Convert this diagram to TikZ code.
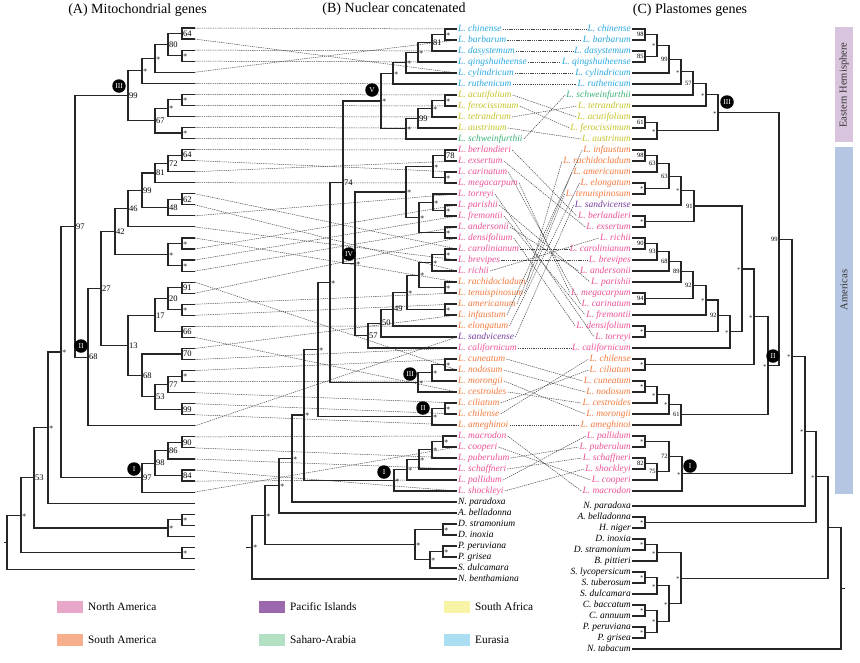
\documentclass[tikz,border=0pt]{standalone}
\usepackage{fontspec}
\setmainfont{Liberation Serif}
\usetikzlibrary{calc}
\definecolor{ceu}{RGB}{41,168,224}
\definecolor{csa}{RGB}{196,196,40}
\definecolor{csh}{RGB}{60,178,118}
\definecolor{cna}{RGB}{236,82,152}
\definecolor{csm}{RGB}{243,122,62}
\definecolor{cpa}{RGB}{118,58,160}
\definecolor{lna}{RGB}{232,167,200}
\definecolor{lpa}{RGB}{155,104,173}
\definecolor{lsa}{RGB}{248,244,166}
\definecolor{lsm}{RGB}{246,174,140}
\definecolor{lsh}{RGB}{179,223,194}
\definecolor{leu}{RGB}{170,223,243}
\definecolor{ehcol}{RGB}{216,196,220}
\definecolor{amcol}{RGB}{181,198,226}
\newcommand\sstar{$\ast$}
\newcommand\jn[6]{%
  \coordinate (tmpx) at (#2,0);
  \coordinate (tmpm) at ($(#3)!0.5!(#4)$);
  \coordinate (#1) at (tmpm -| tmpx);
  \draw[tr] (#3) -- (#3 -| #1) -- (#4 -| #1) -- (#4);
  \node[#6] (#1l) at (#1) {#5};
}
\tikzset{
  tr/.style={line width=1.15pt, draw=black!85, line join=miter},
  dsh/.style={draw=black!72, line width=0.5pt, dash pattern=on 1.3pt off 0.9pt},
  tax/.style={font=\fontsize{9.5}{10}\selectfont\itshape, inner sep=1pt, text height=6.8pt, text depth=2pt},
  sa/.style={anchor=west, font=\fontsize{8.5}{9}\selectfont, inner sep=0.8pt},
  sc/.style={anchor=east, font=\fontsize{6.5}{7}\selectfont, inner sep=1.2pt},
  circ/.style={circle, fill=black, minimum size=13.5pt, inner sep=0pt, text=white, font=\fontsize{7.5}{8}\selectfont},
  ttl/.style={font=\fontsize{14}{16}\selectfont, inner sep=0pt},
  leg/.style={font=\fontsize{11.3}{12}\selectfont, anchor=west, inner sep=1pt},
  side/.style={font=\fontsize{10.5}{11}\selectfont, text=black!80, rotate=90, inner sep=0pt}
}
\begin{document}
\begin{tikzpicture}[x=1pt,y=-1pt]
\fill[white] (0,0) rectangle (860,662);
\useasboundingbox (0,0) rectangle (860,662);
% titles
\node[ttl] (tA) at (137.5,10) {(A) Mitochondrial genes};
\node[ttl] (tB) at (394,9) {(B) Nuclear concatenated};
\node[ttl] (tC) at (690,10) {(C) Plastomes genes};
% side bars
\fill[ehcol] (835,27) rectangle (853,142);
\fill[amcol] (835,147) rectangle (853,494);
\node[side] (sEH) at (844,85) {Eastern Hemisphere};
\node[side] (sAM) at (844,290) {Americas};
% A tips
\foreach \i in {0,...,49} \coordinate (a\i) at (195,{28+11.05*\i});
% B labels
\foreach \k/\n/\c [count=\j from 0] in {chi/chinense/ceu, bar/barbarum/ceu, das/dasystemum/ceu, qin/qingshuiheense/ceu, cyl/cylindricum/ceu, rut/ruthenicum/ceu, acu/acutifolium/csa, fer/ferocissimum/csa, tet/tetrandrum/csa, aus/austrinum/csa, sch/schweinfurthii/csh, ber/berlandieri/cna, exs/exsertum/cna, car/carinatum/cna, meg/megacarpum/cna, tor/torreyi/cna, par/parishii/cna, fre/fremontii/cna, and/andersonii/cna, den/densifolium/cna, crl/carolinianum/cna, bre/brevipes/cna, ric/richii/cna, rac/rachidocladum/csm, ten/tenuispinosum/csm, ame/americanum/csm, inf/infaustum/csm, elo/elongatum/csm, san/sandvicense/cpa, cal/californicum/cna, cun/cuneatum/csm, nod/nodosum/csm, mor/morongii/csm, ces/cestroides/csm, cil/ciliatum/csm, chl/chilense/csm, amg/ameghinoi/csm, mac/macrodon/cna, coo/cooperi/cna, pub/puberulum/cna, sff/schaffneri/cna, pal/pallidum/cna, sho/shockleyi/cna}
  \node[tax, text=\c, anchor=west] (B\k) at (457,{29+11*\j}) {L. \n};
\foreach \k/\n [count=\j from 43] in {npa/N. paradoxa, abe/A. belladonna, dst/D. stramonium, din/D. inoxia, ppe/P. peruviana, pgr/P. grisea, sdu/S. dulcamara, nbe/N. benthamiana}
  \node[tax, anchor=west] (B\k) at (457,{29+11*\j}) {\n};
% C labels
\foreach \k/\n/\c [count=\j from 0] in {chi/chinense/ceu, bar/barbarum/ceu, das/dasystemum/ceu, qin/qingshuiheense/ceu, cyl/cylindricum/ceu, rut/ruthenicum/ceu, sch/schweinfurthii/csh, tet/tetrandrum/csa, acu/acutifolium/csa, fer/ferocissimum/csa, aus/austrinum/csa, inf/infaustum/csm, rac/rachidocladum/csm, ame/americanum/csm, elo/elongatum/csm, ten/tenuispinosum/csm, san/sandvicense/cpa, ber/berlandieri/cna, exs/exsertum/cna, ric/richii/cna, crl/carolinianum/cna, bre/brevipes/cna, and/andersonii/cna, par/parishii/cna, meg/megacarpum/cna, car/carinatum/cna, fre/fremontii/cna, den/densifolium/cna, tor/torreyi/cna, cal/californicum/cna, chl/chilense/csm, cil/ciliatum/csm, cun/cuneatum/csm, nod/nodosum/csm, ces/cestroides/csm, mor/morongii/csm, amg/ameghinoi/csm, pal/pallidum/cna, pub/puberulum/cna, sff/schaffneri/cna, sho/shockleyi/cna, coo/cooperi/cna, mac/macrodon/cna}
  \node[tax, text=\c, anchor=east] (C\k) at (632,{29+11*\j}) {L. \n};
\foreach \k/\n [count=\j from 0] in {npa/N. paradoxa, abe/A. belladonna, hni/H. niger, din/D. inoxia, dst/D. stramonium, bpi/B. pittieri, sly/S. lycopersicum, stu/S. tuberosum, sdu/S. dulcamara, cba/C. baccatum, can/C. annuum, ppe/P. peruviana, pgr/P. grisea, nta/N. tabacum}
  \node[tax, anchor=east] (C\k) at (632,{506+11*\j}) {\n};
% dashed A -> B
\foreach \i/\k in {0/chi,1/cyl,2/das,3/qin,4/bar,5/rut,6/acu,7/fer,8/tet,9/aus,10/sch,11/ber,12/car,13/exs,14/meg,15/crl,16/ric,17/tor,18/bre,19/rac,20/par,21/fre,22/and,23/nod,24/den,25/ten,26/ame,27/elo,28/ces,29/inf,30/cal,31/cun,32/mor,33/cil,34/chl,35/amg,36/san,37/mac,38/pub,39/sff,40/sho,41/pal,42/coo}
  \draw[dsh] (a\i) -- (B\k.west);
% dashed B -> C
\foreach \k in {chi,bar,das,qin,cyl,rut,acu,fer,tet,aus,sch,ber,exs,car,meg,tor,par,fre,and,den,crl,bre,ric,rac,ten,ame,inf,elo,san,cal,cun,nod,mor,ces,cil,chl,amg,mac,coo,pub,sff,pal,sho}
  \draw[dsh] (B\k.east) -- (C\k.west);
% ===== tree A =====
\jn{n1}{182}{a0}{a1}{64}{sa}
\jn{n2}{182}{a2}{a3}{\sstar}{sa}
\jn{n3}{168}{n1}{n2}{80}{sa}
\jn{n4}{155}{n3}{a4}{\sstar}{sa}
\jn{n5}{142}{n4}{a5}{\sstar}{sa}
\jn{n6}{182}{a6}{a7}{\sstar}{sa}
\jn{n7}{168}{n6}{a8}{\sstar}{sa}
\jn{n8}{182}{a9}{a10}{\sstar}{sa}
\jn{n9}{155}{n7}{n8}{67}{sa}
\jn{n10}{128}{n5}{n9}{99}{sa}
\jn{n11}{182}{a11}{a12}{64}{sa}
\jn{n12}{168}{n11}{a13}{72}{sa}
\jn{n13}{155}{n12}{a14}{81}{sa}
\jn{n14}{182}{a15}{a16}{62}{sa}
\jn{n15}{168}{n14}{a17}{48}{sa}
\jn{n16}{142}{n13}{n15}{99}{sa}
\jn{n17}{128}{n16}{a18}{46}{sa}
\jn{n18}{182}{a19}{a20}{\sstar}{sa}
\jn{n19}{182}{a21}{a22}{\sstar}{sa}
\jn{n20}{168}{n18}{n19}{\sstar}{sa}
\jn{n21}{115}{n17}{n20}{42}{sa}
\jn{n22}{182}{a23}{a24}{91}{sa}
\jn{n23}{182}{a25}{a26}{\sstar}{sa}
\jn{n24}{168}{n22}{n23}{20}{sa}
\jn{n25}{182}{a27}{a28}{66}{sa}
\jn{n26}{155}{n24}{n25}{17}{sa}
\jn{n27}{182}{a29}{a30}{70}{sa}
\jn{n28}{182}{a31}{a32}{\sstar}{sa}
\jn{n29}{168}{n28}{a33}{77}{sa}
\jn{n30}{182}{a34}{a35}{99}{sa}
\jn{n31}{155}{n29}{n30}{53}{sa}
\jn{n32}{142}{n27}{n31}{68}{sa}
\jn{n33}{128}{n26}{n32}{13}{sa}
\jn{n34}{101}{n21}{n33}{27}{sa}
\jn{n35}{88}{n34}{a36}{68}{sa}
\jn{n36}{75}{n10}{n35}{97}{sa}
\jn{n37}{182}{a37}{a38}{90}{sa}
\jn{n38}{168}{n37}{a39}{86}{sa}
\jn{n39}{182}{a40}{a41}{84}{sa}
\jn{n40}{155}{n38}{n39}{98}{sa}
\jn{n41}{142}{n40}{a42}{97}{sa}
\jn{n42}{61}{n36}{n41}{\sstar}{sa}
\jn{n43}{48}{n42}{a43}{\sstar}{sa}
\jn{n44}{182}{a44}{a45}{\sstar}{sa}
\jn{n45}{168}{n44}{a46}{\sstar}{sa}
\jn{n46}{34}{n43}{n45}{53}{sa}
\jn{n47}{182}{a47}{a48}{\sstar}{sa}
\jn{n48}{21}{n46}{n47}{\sstar}{sa}
\jn{n49}{7}{n48}{a49}{}{sa}
\draw[tr] (n49) -- ++(-3,0);
\node[circ] (cA3) at (119,86) {III};
\node[circ] (cA2) at (81,346) {II};
\node[circ] (cA1) at (134,469) {I};
% ===== tree B =====
\jn{m1}{445}{Bchi.west}{Bbar.west}{\sstar}{sa}
\jn{m2}{432}{m1}{Bdas.west}{81}{sa}
\jn{m3}{418}{m2}{Bqin.west}{\sstar}{sa}
\jn{m4}{406}{m3}{Bcyl.west}{\sstar}{sa}
\jn{m5}{393}{m4}{Brut.west}{\sstar}{sa}
\jn{m6}{445}{Bacu.west}{Bfer.west}{\sstar}{sa}
\jn{m7}{432}{m6}{Btet.west}{\sstar}{sa}
\jn{m8}{418}{m7}{Baus.west}{99}{sa}
\jn{m9}{406}{m8}{Bsch.west}{\sstar}{sa}
\jn{m10}{381}{m5}{m9}{\sstar}{sa}
\jn{m11}{445}{Bber.west}{Bexs.west}{78}{sa}
\jn{m12}{445}{Bcar.west}{Bmeg.west}{\sstar}{sa}
\jn{m13}{433}{m11}{m12}{\sstar}{sa}
\jn{m14}{445}{Bpar.west}{Bfre.west}{\sstar}{sa}
\jn{m15}{433}{Btor.west}{m14}{\sstar}{sa}
\jn{m16}{445}{Band.west}{Bden.west}{\sstar}{sa}
\jn{m17}{419}{m15}{m16}{\sstar}{sa}
\jn{m18}{406}{m13}{m17}{\sstar}{sa}
\jn{m19}{445}{Bcrl.west}{Bbre.west}{\sstar}{sa}
\jn{m20}{432}{m19}{Bric.west}{\sstar}{sa}
\jn{m21}{445}{Brac.west}{Bten.west}{\sstar}{sa}
\jn{m22}{419}{m20}{m21}{\sstar}{sa}
\jn{m23}{445}{Bame.west}{Binf.west}{\sstar}{sa}
\jn{m24}{407}{m22}{m23}{\sstar}{sa}
\jn{m25}{393}{m24}{Belo.west}{49}{sa}
\jn{m26}{381}{m25}{Bsan.west}{50}{sa}
\jn{m27}{368}{m26}{Bcal.west}{57}{sa}
\jn{m28}{355}{m18}{m27}{\sstar}{sa}
\jn{m29}{343}{m10}{m28}{74}{sa}
\jn{m30}{445}{Bcun.west}{Bnod.west}{\sstar}{sa}
\jn{m31}{432}{m30}{Bmor.west}{\sstar}{sa}
\jn{m32}{418}{m31}{Bces.west}{\sstar}{sa}
\jn{m33}{330}{m29}{m32}{\sstar}{sa}
\jn{m34}{445}{Bcil.west}{Bchl.west}{\sstar}{sa}
\jn{m35}{432}{m34}{Bamg.west}{\sstar}{sa}
\jn{m36}{318}{m33}{m35}{\sstar}{sa}
\jn{m37}{443}{Bmac.west}{Bcoo.west}{\sstar}{sa}
\jn{m38}{432}{m37}{Bpub.west}{\sstar}{sa}
\jn{m39}{419}{m38}{Bsff.west}{\sstar}{sa}
\jn{m40}{407}{m39}{Bpal.west}{\sstar}{sa}
\jn{m41}{394}{m40}{Bsho.west}{\sstar}{sa}
\jn{m42}{304}{m36}{m41}{\sstar}{sa}
\jn{m43}{292}{m42}{Bnpa.west}{\sstar}{sa}
\jn{m44}{279}{m43}{Babe.west}{\sstar}{sa}
\jn{m45}{443}{Bdst.west}{Bdin.west}{\sstar}{sa}
\jn{m46}{443}{Bppe.west}{Bpgr.west}{\sstar}{sa}
\jn{m47}{430}{m46}{Bsdu.west}{\sstar}{sa}
\jn{m48}{415}{m45}{m47}{\sstar}{sa}
\jn{m49}{265}{m44}{m48}{\sstar}{sa}
\jn{m50}{252}{m49}{Bnbe.west}{\sstar}{sa}
\draw[tr] (m50) -- ++(-6,0);
\node[circ] (cB5) at (372,90) {V};
\node[circ] (cB4) at (349,254) {IV};
\node[circ] (cB3) at (410,374) {III};
\node[circ] (cB2) at (423,408) {II};
\node[circ] (cB1) at (384,472) {I};
% ===== tree C =====
\jn{k1}{645}{Cchi.east}{Cbar.east}{98}{sc}
\jn{k2}{645}{Cdas.east}{Cqin.east}{85}{sc}
\jn{k3}{657}{k1}{k2}{\sstar}{sc}
\jn{k4}{669}{k3}{Ccyl.east}{99}{sc}
\jn{k5}{681}{k4}{Crut.east}{\sstar}{sc}
\jn{k6}{693}{k5}{Csch.east}{57}{sc}
\jn{k7}{706}{k6}{Ctet.east}{\sstar}{sc}
\jn{k8}{645}{Cacu.east}{Cfer.east}{61}{sc}
\jn{k9}{657}{k8}{Caus.east}{\sstar}{sc}
\jn{k10}{718}{k7}{k9}{\sstar}{sc}
\jn{k11}{645}{Cinf.east}{Crac.east}{98}{sc}
\jn{k12}{657}{k11}{Came.east}{63}{sc}
\jn{k13}{645}{Celo.east}{Cten.east}{\sstar}{sc}
\jn{k14}{669}{k12}{k13}{63}{sc}
\jn{k15}{681}{k14}{Csan.east}{\sstar}{sc}
\jn{k16}{645}{Cber.east}{Cexs.east}{\sstar}{sc}
\jn{k17}{694}{k15}{k16}{91}{sc}
\jn{k18}{645}{Cric.east}{Ccrl.east}{90}{sc}
\jn{k19}{657}{k18}{Cbre.east}{93}{sc}
\jn{k20}{669}{k19}{Cand.east}{68}{sc}
\jn{k21}{681}{k20}{Cpar.east}{89}{sc}
\jn{k22}{645}{Cmeg.east}{Ccar.east}{94}{sc}
\jn{k23}{693}{k21}{k22}{92}{sc}
\jn{k24}{706}{k23}{Cfre.east}{\sstar}{sc}
\jn{k25}{645}{Cden.east}{Ctor.east}{\sstar}{sc}
\jn{k26}{718}{k24}{k25}{92}{sc}
\jn{k27}{730}{k26}{Ccal.east}{\sstar}{sc}
\jn{k28}{742}{k17}{k27}{\sstar}{sc}
\jn{k29}{645}{Cchl.east}{Ccil.east}{\sstar}{sc}
\jn{k30}{754}{k28}{k29}{\sstar}{sc}
\jn{k31}{645}{Ccun.east}{Cnod.east}{\sstar}{sc}
\jn{k32}{657}{k31}{Cces.east}{\sstar}{sc}
\jn{k33}{669}{k32}{Cmor.east}{\sstar}{sc}
\jn{k34}{681}{k33}{Camg.east}{61}{sc}
\jn{k35}{768}{k30}{k34}{\sstar}{sc}
\jn{k36}{779}{k10}{k35}{99}{sc}
\jn{k37}{645}{Cpal.east}{Cpub.east}{\sstar}{sc}
\jn{k38}{645}{Csff.east}{Csho.east}{82}{sc}
\jn{k39}{657}{k38}{Ccoo.east}{75}{sc}
\jn{k40}{669}{k37}{k39}{72}{sc}
\jn{k41}{682}{k40}{Cmac.east}{\sstar}{sc}
\jn{k42}{792}{k36}{k41}{\sstar}{sc}
\jn{k43}{805}{k42}{Cnpa.east}{\sstar}{sc}
\jn{k44}{645}{Cabe.east}{Chni.east}{\sstar}{sc}
\jn{k45}{816}{k43}{k44}{\sstar}{sc}
\jn{k46}{645}{Cdin.east}{Cdst.east}{\sstar}{sc}
\jn{k47}{657}{k46}{Cbpi.east}{\sstar}{sc}
\jn{k48}{645}{Csly.east}{Cstu.east}{\sstar}{sc}
\jn{k49}{657}{k48}{Csdu.east}{\sstar}{sc}
\jn{k50}{645}{Ccba.east}{Ccan.east}{\sstar}{sc}
\jn{k51}{645}{Cppe.east}{Cpgr.east}{\sstar}{sc}
\jn{k52}{657}{k50}{k51}{\sstar}{sc}
\jn{k53}{669}{k49}{k52}{\sstar}{sc}
\jn{k54}{681}{k47}{k53}{\sstar}{sc}
\jn{k55}{828}{k45}{k54}{}{sc}
\jn{k56}{841}{k55}{Cnta.east}{}{sc}
\draw[tr] (k56) -- ++(4,0);
\node[circ] (cC3) at (727,102) {III};
\node[circ] (cC2) at (773,356) {II};
\node[circ] (cC1) at (690,466) {I};
% legend
\foreach \c/\t/\x/\y in {lna/North America/57/607, lpa/Pacific Islands/259/607, lsa/South Africa/444/607, lsm/South America/57/640, lsh/Saharo-Arabia/259/640, leu/Eurasia/444/640}{
  \fill[\c] (\x,\y-6) rectangle ++(26,12);
  \node[leg] (L\c) at (\x+30,\y) {\t};
}
\end{tikzpicture}
\end{document}
